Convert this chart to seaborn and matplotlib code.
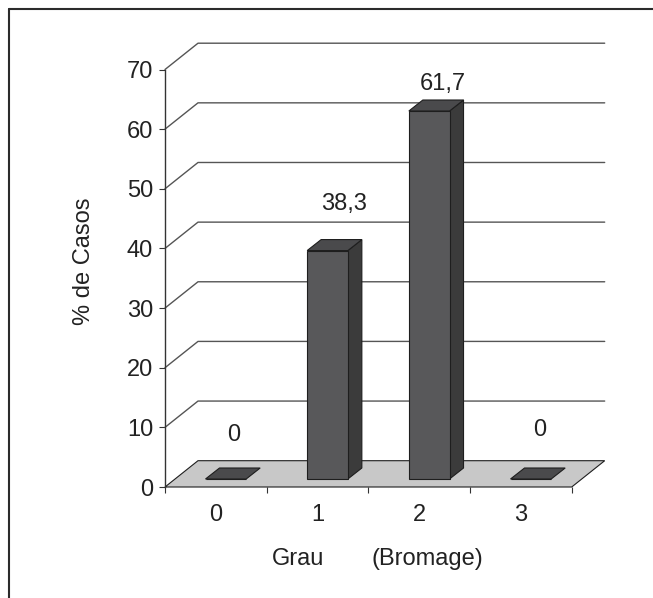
import matplotlib
matplotlib.use("Agg")
import matplotlib.pyplot as plt
from matplotlib.patches import Polygon
from matplotlib.lines import Line2D
from matplotlib.ticker import FixedLocator
import pandas as pd
import seaborn as sns

# Bromage grade distribution (% of cases)
grades = ["0", "1", "2", "3"]
percent_cases = [0.0, 38.3, 61.7, 0.0]
value_labels = ["0", "38,3", "61,7", "0"]
y_ticks = [0, 10, 20, 30, 40, 50, 60, 70]

sns.set_theme(style="white")
plt.rcParams["font.family"] = ["Liberation Sans", "DejaVu Sans"]

W, H, DPI = 653, 598, 100
FS = 17
TXT = "#222222"
EDGE = "#1e1e1e"
FRONT_C = "#58585a"
SIDE_C = "#3b3b3b"
TOP_C = "#4a4a4c"
FLOOR_C = "#c8c8c8"
GRID_C = "#555555"

fig = plt.figure(figsize=(W / DPI, H / DPI), dpi=DPI)
fig.patch.set_facecolor("white")

# front plane of the chart floor, in pixels
left, right, base, top = 165, 571.7, 487, 69.5
ax = fig.add_axes([left / W, 1 - base / H, (right - left) / W, (base - top) / H])
ax.set_xlim(-0.5, 3.5)
ax.set_ylim(0, 70)
ax.patch.set_visible(False)

px_x = 4 / (right - left)
px_y = 70 / (base - top)


def depth(dx, dy):
    return dx * px_x, dy * px_y


fx, fy = depth(33, 26.3)   # floor / back wall depth
bx, by = depth(10, 8)      # bar front plane offset
sx, sy = depth(14, 11)     # bar thickness

df = pd.DataFrame({"grau": grades, "pct": percent_cases})
sns.barplot(data=df, x="grau", y="pct", order=grades, color=FRONT_C,
            saturation=1, width=0.4, errorbar=None, edgecolor=EDGE,
            linewidth=0.8, ax=ax, zorder=6)
bars = list(ax.patches)

# floor
ax.add_patch(Polygon([(-0.5, 0), (3.5, 0), (3.5 + fx, fy), (-0.5 + fx, fy)],
                     closed=True, fc=FLOOR_C, ec=EDGE, lw=0.8, zorder=2,
                     clip_on=False))

# gridlines on side and back walls
for v in y_ticks[1:]:
    ax.plot([-0.5, -0.5 + fx, 3.5 + fx], [v, v + fy, v + fy],
            color=GRID_C, lw=1.0, zorder=1, clip_on=False)

# extruded bars
for bar in bars:
    x0, w, h = bar.get_x(), bar.get_width(), bar.get_height()
    xf = x0 + bx
    bar.set_x(xf)
    bar.set_y(by)
    bar.set_clip_on(False)
    if h > 0:
        ax.add_patch(Polygon([(xf + w, by), (xf + w, by + h),
                              (xf + w + sx, by + h + sy), (xf + w + sx, by + sy)],
                             closed=True, fc=SIDE_C, ec=EDGE, lw=0.8,
                             zorder=5, clip_on=False))
    ax.add_patch(Polygon([(xf, by + h), (xf + w, by + h),
                          (xf + w + sx, by + h + sy), (xf + sx, by + h + sy)],
                         closed=True, fc=TOP_C, ec=EDGE, lw=0.8,
                         zorder=7, clip_on=False))

# value labels
label_offsets = [(18, 52), (26.5, 54.6), (23.5, 35), (19, 57)]
for i, (v, txt) in enumerate(zip(percent_cases, value_labels)):
    ox, oy = label_offsets[i]
    ax.annotate(txt, xy=(i, v), xytext=(ox, oy), textcoords="offset pixels",
                ha="center", va="center", fontsize=FS, color=TXT, zorder=9,
                annotation_clip=False)

# axes styling
for name in ("top", "right", "bottom"):
    ax.spines[name].set_visible(False)
ax.spines["left"].set_color("#333333")
ax.spines["left"].set_linewidth(1.0)
ax.set_yticks(y_ticks)
ax.set_yticklabels([str(t) for t in y_ticks])
ax.tick_params(axis="y", left=True, length=4.1, width=0.8, color="#333333",
               pad=4.5, labelsize=FS, labelcolor=TXT)
ax.set_xticks(range(len(grades)))
ax.set_xticklabels(grades)
ax.xaxis.set_minor_locator(FixedLocator([-0.5, 0.5, 1.5, 2.5, 3.5]))
ax.tick_params(axis="x", which="major", bottom=True, length=0, pad=12,
               labelsize=FS, labelcolor=TXT)
ax.tick_params(axis="x", which="minor", bottom=True, length=4.3, width=0.8,
               color="#333333")
ax.set_xlabel("")
ax.set_ylabel("")

fig.text(84 / W, 1 - 261 / H, "% de Casos", rotation=90, ha="center",
         va="center", fontsize=FS, color=TXT)
fig.text(298 / W, 1 - 559 / H, "Grau", ha="center", va="center",
         fontsize=FS, color=TXT)
fig.text(427.5 / W, 1 - 559 / H, "(Bromage)", ha="center", va="center",
         fontsize=FS, color=TXT)

# outer frame (top and left edges)
fig.add_artist(Line2D([9 / W, 1], [1 - 9 / H, 1 - 9 / H],
                      transform=fig.transFigure, color="#2b2b2b", lw=1.5))
fig.add_artist(Line2D([9 / W, 9 / W], [0, 1 - 9 / H],
                      transform=fig.transFigure, color="#2b2b2b", lw=1.5))

fig.savefig("out.png", dpi=DPI)
